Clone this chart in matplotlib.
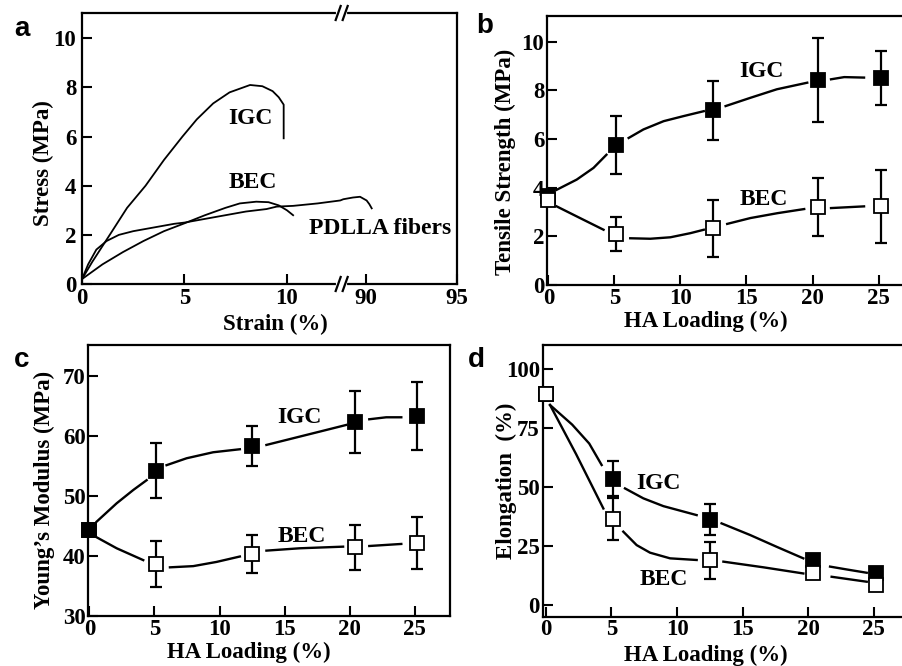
import numpy as np
import matplotlib

matplotlib.use("Agg")
import matplotlib.pyplot as plt

nan = np.nan
plt.rcParams.update({
    "font.family": ["Liberation Serif", "DejaVu Serif"],
    "font.weight": "bold",
    "axes.labelweight": "bold",
    "axes.linewidth": 1.6,
    "xtick.direction": "in",
    "ytick.direction": "in",
    "xtick.major.size": 7,
    "ytick.major.size": 7,
    "xtick.major.width": 1.5,
    "ytick.major.width": 1.5,
    "xtick.labelsize": 16.5,
    "ytick.labelsize": 16.5,
    "xtick.major.pad": 2,
    "ytick.major.pad": 2,
})

# ---------------------------------------------------------------- panel a data (stress-strain)
a_igc_x = [0, 0.5, 1.4, 2.2, 3.1, 4.0, 4.9, 5.6, 6.4, 7.2, 8.2, 8.8, 9.3, 9.6, 9.84, 9.84]
a_igc_y = [0.2, 0.9, 2.06, 3.1, 4.0, 5.05, 6.0, 6.7, 7.35, 7.8, 8.1, 8.05, 7.85, 7.6, 7.3, 5.93]
a_bec_x = [0, 1, 2, 3, 4, 5, 6, 7, 7.7, 8.5, 9.1, 9.6, 10.0, 10.3]
a_bec_y = [0.2, 0.8, 1.3, 1.75, 2.15, 2.47, 2.8, 3.1, 3.28, 3.35, 3.33, 3.2, 3.0, 2.8]
a_pdl_x = [0, 0.3, 0.7, 1.2, 1.8, 2.5, 3.5, 4.5, 5, 6, 7, 8, 9, 9.5, 10.3, 11.5, 12.6,
           88.77, 89.3, 89.69, 90.05, 90.2, 90.33]
a_pdl_y = [0.2, 0.8, 1.4, 1.75, 2.0, 2.15, 2.3, 2.45, 2.5, 2.65, 2.8, 2.95, 3.05, 3.15,
           3.18, 3.28, 3.4, 3.45, 3.52, 3.55, 3.4, 3.25, 3.08]

# ---------------------------------------------------------------- panels b-d data
ha = [0, 5.1, 12.5, 20.4, 25.15]

b_igc = [3.65, 5.74, 7.17, 8.41, 8.5]
b_igc_err = [0, 1.2, 1.2, 1.72, 1.1]
b_bec = [3.5, 2.09, 2.34, 3.2, 3.24]
b_bec_err = [0, 0.7, 1.17, 1.2, 1.5]
b_igc_cx = [0.63, 2.15, 3.42, 4.4, nan, 6.08, 7.2, 8.73, 10.25, 11.77, nan,
            13.42, 15.3, 17.3, 19.6, nan, 21.4, 22.4, 23.9]
b_igc_cy = [3.91, 4.33, 4.81, 5.35, nan, 6.04, 6.39, 6.73, 6.94, 7.14, nan,
            7.35, 7.69, 8.04, 8.31, nan, 8.45, 8.54, 8.52]
b_bec_cx = [0.63, 2.4, 4.18, nan, 6.2, 7.72, 9.24, 10.76, 11.77, nan,
            13.54, 15.3, 17.34, 19.37, nan, 21.4, 23.9]
b_bec_cy = [3.23, 2.75, 2.27, nan, 1.92, 1.9, 1.96, 2.13, 2.27, nan,
            2.51, 2.75, 2.95, 3.12, nan, 3.16, 3.23]

c_igc = [44.3, 54.2, 58.3, 62.3, 63.3]
c_igc_err = [0, 4.6, 3.4, 5.1, 5.6]
c_bec = [44.3, 38.7, 40.3, 41.4, 42.1]
c_bec_err = [0, 3.8, 3.2, 3.7, 4.3]
c_igc_cx = [0.56, 2.1, 3.38, 4.4, nan, 5.93, 7.47, 9.51, 11.56, nan,
            13.6, 15.65, 17.7, 19.74, nan, 21.5, 22.8, 23.96]
c_igc_cy = [45.7, 48.76, 50.98, 52.6, nan, 55.1, 56.25, 57.25, 57.75, nan,
            58.47, 59.58, 60.69, 61.8, nan, 62.74, 63.07, 63.07]
c_bec_cx = [0.56, 2.1, 4.14, nan, 6.19, 7.98, 9.77, 11.56, nan,
            13.6, 16.16, 19.49, nan, 21.5, 23.96]
c_bec_cy = [43.1, 41.27, 39.3, nan, 38.1, 38.3, 39.0, 39.9, nan,
            40.88, 41.27, 41.54, nan, 41.65, 41.99]

d_igc = [89.6, 53.6, 36.2, 19.0, 13.5]
d_igc_err = [0, 7.3, 6.6, 2.0, 1.5]
d_bec = [89.6, 36.6, 19.0, 13.7, 8.8]
d_bec_err = [0, 8.8, 7.8, 2.5, 2.0]
d_igc_cx = [0.31, 2.0, 3.3, 4.25, nan, 6.03, 7.43, 8.96, 11.5, nan,
            13.4, 15.57, 17.6, 19.64, nan, 21.68, 22.95, 24.48]
d_igc_cy = [84.8, 76.5, 68.5, 59.4, nan, 49.5, 45.3, 42.0, 38.2, nan,
            34.7, 29.8, 24.8, 19.9, nan, 16.4, 15.2, 13.8]
d_bec_cx = [0.31, 2.3, 4.38, nan, 5.9, 6.92, 7.94, 9.47, 11.5, nan,
            13.54, 16.6, 19.64, nan, 21.8, 24.48]
d_bec_cy = [84.8, 64.0, 41.0, nan, 31.2, 25.5, 22.3, 19.9, 19.2, nan,
            18.5, 16.1, 13.5, nan, 12.1, 10.0]

# ---------------------------------------------------------------- layout helpers
W, H = 902, 666
fig = plt.figure(figsize=(W / 100, H / 100), dpi=100)


def px_axes(l, t, r, b):
    return fig.add_axes([l / W, 1 - b / H, (r - l) / W, (b - t) / H])


def fig_xy(x, y):
    return x / W, 1 - y / H


def style(ax):
    ax.tick_params(top=False, right=False)
    ax.minorticks_off()


def series(ax, cx, cy, y, err, filled, z):
    ax.plot(cx, cy, color="k", lw=1.7, zorder=2)
    ax.errorbar(ha, y, yerr=err, fmt="none", ecolor="k", elinewidth=1.6,
                capsize=4.5, capthick=1.6, zorder=3)
    ax.plot(ha, y, "s", ms=9.5, mfc="k" if filled else "w", mec="k", mew=1.3,
            zorder=z, clip_on=False)


def labels(ax, xl, yl, xpos, ypos):
    ax.set_xlabel(xl, fontsize=16.5, va="center")
    ax.set_ylabel(yl, fontsize=16.5, va="center")
    ax.xaxis.set_label_coords(*xpos)
    ax.yaxis.set_label_coords(*ypos)


# ---------------------------------------------------------------- a: broken strain axis
BRK_LO, BRK_HI, K = 12.67, 88.68, 0.888


def fwd(x):
    x = np.asarray(x, dtype=float)
    return np.where(x <= BRK_LO, x, np.where(x >= BRK_HI, BRK_LO + (x - BRK_HI) * K, BRK_LO))


def inv(u):
    u = np.asarray(u, dtype=float)
    return np.where(u <= BRK_LO, u, BRK_HI + (u - BRK_LO) / K)


A_L, A_T, A_R, A_B = 82, 13, 456.7, 284
ax = px_axes(A_L, A_T, A_R, A_B)
ax.set_xscale("function", functions=(fwd, inv))
ax.set_xlim(0, 95)
ax.set_ylim(0, 11.03)
ax.plot(a_igc_x, a_igc_y, color="k", lw=1.3)
ax.plot(a_bec_x, a_bec_y, color="k", lw=1.3)
ax.plot(a_pdl_x, a_pdl_y, color="k", lw=1.3)
ax.set_xticks([0, 5, 10, 90, 95])
ax.set_xticklabels(["0", "5", "10", "90", "95"])
ax.set_yticks([0, 2, 4, 6, 8, 10])
style(ax)
ax.tick_params(axis="y", pad=4.2)
ax.tick_params(axis="x", pad=3)
ax.text(8.23, 6.74, "IGC", fontsize=17, ha="center", va="center")
ax.text(8.33, 4.12, "BEC", fontsize=17, ha="center", va="center")
ax.text(11.1, 2.27, "PDLLA fibers", fontsize=17, ha="left", va="center")
labels(ax, "Strain (%)", "Stress (MPa)", (0.515, -0.148), (-0.104, 0.448))

# break marks on top and bottom spines
xb = A_L + (A_R - A_L) * float(fwd(BRK_LO)) / float(fwd(95))
for yb in (A_T, A_B):
    x0, y0 = fig_xy(xb - 3.5, yb)
    x1, y1 = fig_xy(xb + 3.5, yb)
    fig.add_artist(plt.Line2D([x0, x1], [y0, y1], color="w", lw=3))
    for c in (xb - 3.5, xb + 3.5):
        p0 = fig_xy(c - 2.5, yb + 7)
        p1 = fig_xy(c + 2.5, yb - 7)
        fig.add_artist(plt.Line2D([p0[0], p1[0]], [p0[1], p1[1]], color="k", lw=1.6))

# ---------------------------------------------------------------- b: tensile strength
ax = px_axes(547, 16, 905, 285)
series(ax, b_igc_cx, b_igc_cy, b_igc, b_igc_err, True, 4)
series(ax, b_bec_cx, b_bec_cy, b_bec, b_bec_err, False, 5)
ax.set_xlim(-0.1, 27.0)
ax.set_ylim(0, 11.05)
ax.set_xticks([0, 5, 10, 15, 20, 25])
ax.set_yticks([0, 2, 4, 6, 8, 10])
style(ax)
ax.text(16.1, 8.75, "IGC", fontsize=17, ha="center", va="center")
ax.text(16.3, 3.53, "BEC", fontsize=17, ha="center", va="center")
labels(ax, "HA Loading (%)", "Tensile Strength (MPa)", (0.444, -0.134), (-0.117, 0.457))

# ---------------------------------------------------------------- c: Young's modulus
ax = px_axes(88.3, 345, 450, 616)
series(ax, c_bec_cx, c_bec_cy, c_bec, c_bec_err, False, 4)
series(ax, c_igc_cx, c_igc_cy, c_igc, c_igc_err, True, 5)
ax.set_xlim(-0.08, 27.7)
ax.set_ylim(30, 75.1)
ax.set_xticks([0, 5, 10, 15, 20, 25])
ax.set_yticks([30, 40, 50, 60, 70])
style(ax)
ax.text(16.1, 63.1, "IGC", fontsize=17, ha="center", va="center")
ax.text(16.3, 43.3, "BEC", fontsize=17, ha="center", va="center")
labels(ax, "HA Loading (%)", "Young\u2019s Modulus (MPa)", (0.444, -0.133), (-0.12, 0.465))

# ---------------------------------------------------------------- d: elongation
ax = px_axes(542.7, 345, 905, 616.7)
series(ax, d_igc_cx, d_igc_cy, d_igc, d_igc_err, True, 4)
series(ax, d_bec_cx, d_bec_cy, d_bec, d_bec_err, False, 5)
ax.set_xlim(-0.25, 27.4)
ax.set_ylim(-4.8, 110.2)
ax.set_xticks([0, 5, 10, 15, 20, 25])
ax.set_yticks([0, 25, 50, 75, 100])
style(ax)
ax.text(8.6, 51.6, "IGC", fontsize=17, ha="center", va="center")
ax.text(8.96, 11.0, "BEC", fontsize=17, ha="center", va="center")
labels(ax, "HA Loading (%)", "Elongation  (%)", (0.451, -0.141), (-0.101, 0.5))

# ---------------------------------------------------------------- panel letters
for letter, (px, py) in zip("abcd", [(22, 36), (485, 33), (22, 367), (476, 367)]):
    fx, fy = fig_xy(px, py)
    fig.text(fx, fy, letter, fontsize=20, fontweight="bold", ha="center", va="baseline",
             family=["Liberation Sans", "DejaVu Sans"])

fig.savefig("out.png", dpi=100)
